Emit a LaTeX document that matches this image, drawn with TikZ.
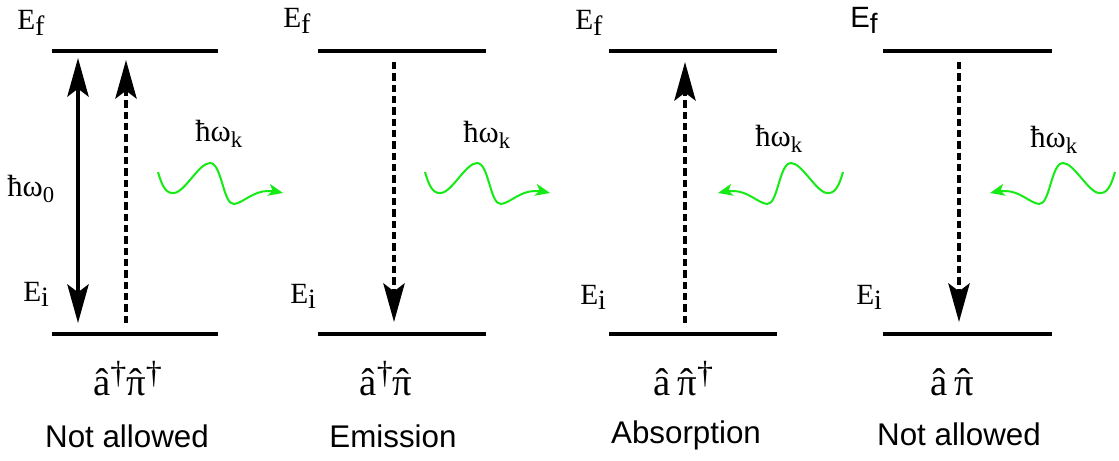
\documentclass[tikz,border=0pt]{standalone}
\usepackage{fontspec}
\setmainfont{Liberation Serif}
\setsansfont{Liberation Sans}
\usetikzlibrary{arrows.meta}
\definecolor{photongreen}{RGB}{20,235,20}
\newcommand{\hatpi}{\ooalign{π\cr\hidewidth ˆ\hidewidth\cr}}
\newcommand{\dg}{\raisebox{0.3em}{\fontsize{24}{24}\selectfont †}}
\newcommand{\lowidx}[1]{\raisebox{-0.22em}{\fontsize{17}{17}\selectfont #1}}
\newcommand{\lvlidx}[1]{\raisebox{-0.2em}{\fontsize{21}{21}\selectfont #1}}
\tikzset{
  energyline/.style={line width=3pt},
  transarrow/.style={line width=2.6pt, -{Stealth[length=29pt,width=16pt,inset=6pt]}},
  dasharrow/.style={transarrow, dash pattern=on 5.5pt off 3pt},
  photonwave/.style={draw=photongreen, line width=1.5pt, -{Stealth[length=11pt,width=9pt,inset=3pt]}},
  levellabel/.style={anchor=base west, inner sep=0pt, font=\fontsize{22}{22}\selectfont},
  energylabel/.style={anchor=base west, inner sep=0pt, font=\fontsize{23}{23}\selectfont},
  oplabel/.style={anchor=base, inner sep=0pt, font=\fontsize{29}{30}\selectfont},
  caption/.style={anchor=base, inner sep=0pt, font=\sffamily\fontsize{23.5}{26}\selectfont},
  photon/.pic={
    \draw[photonwave] (0,0) .. controls (4,14) and (8,22) .. (16,21)
      .. controls (27,20) and (41,-9) .. (52,-9)
      .. controls (64,-9) and (65,33) .. (76,32)
      .. controls (85,31) and (95,19) .. (110,19)
      .. controls (116,19) .. (125,21);
  }
}

\begin{document}
\begin{tikzpicture}[x=0.75pt, y=-0.75pt]
  \useasboundingbox (0,0) rectangle (1119,460);

  \draw[energyline] (52,51.5) -- (218,51.5);
  \draw[energyline] (52,334) -- (218,334);
  \draw[energyline] (318,51.5) -- (486,51.5);
  \draw[energyline] (318,334) -- (486,334);
  \draw[energyline] (609,51.5) -- (777,51.5);
  \draw[energyline] (609,334) -- (777,334);
  \draw[energyline] (883,51.5) -- (1052,51.5);
  \draw[energyline] (883,334) -- (1052,334);

  \node[levellabel] (ef1) at (17,30) {E\lvlidx{f}};
  \node[levellabel] (ei1) at (23,301) {E\lvlidx{i}};
  \node[levellabel] (ef2) at (283,28) {E\lvlidx{f}};
  \node[levellabel] (ei2) at (290,303) {E\lvlidx{i}};
  \node[levellabel] (ef3) at (575,30) {E\lvlidx{f}};
  \node[levellabel] (ei3) at (580,304) {E\lvlidx{i}};
  \node[levellabel, font=\sffamily\fontsize{22}{22}\selectfont] (ef4) at (850,28) {E\lvlidx{f}};
  \node[levellabel] (ei4) at (856,304) {E\lvlidx{i}};

  \coordinate (ftop1) at (78,58);   \coordinate (ibot1) at (78,323);
  \coordinate (ftop1d) at (126,60); \coordinate (ibot1d) at (126,323);
  \coordinate (ftop2) at (394,62);  \coordinate (ibot2) at (394,322);
  \coordinate (ftop3) at (685,62);  \coordinate (ibot3) at (685,323);
  \coordinate (ftop4) at (959,62);  \coordinate (ibot4) at (959,322);

  \draw[transarrow, {Stealth[length=29pt,width=16pt,inset=6pt]}-{Stealth[length=29pt,width=16pt,inset=6pt]}] (ibot1) -- (ftop1);
  \draw[dasharrow] (ibot1d) -- (ftop1d);
  \draw[dasharrow] (ftop2) -- (ibot2);
  \draw[dasharrow] (ibot3) -- (ftop3);
  \draw[dasharrow] (ftop4) -- (ibot4);

  \node[energylabel] (w0) at (7,196) {ħω\lowidx{0}};
  \node[energylabel] (wk1) at (195,141) {ħω\lowidx{k}};
  \node[energylabel] (wk2) at (463,142) {ħω\lowidx{k}};
  \node[energylabel] (wk3) at (755,146) {ħω\lowidx{k}};
  \node[energylabel] (wk4) at (1030,147) {ħω\lowidx{k}};

  \pic at (158,172) {photon};
  \pic at (425,172) {photon};
  \pic[xscale=-1] at (843,172) {photon};
  \pic[xscale=-1] at (1115,172) {photon};

  \node[oplabel] (op1) at (127.5,395) {â\dg\hatpi\dg};
  \node[oplabel] (op2) at (386,395) {â\dg\hatpi};
  \node[oplabel] (op3) at (683.5,395) {â\,\hatpi\dg};
  \node[oplabel] (op4) at (952,395) {â\,\hatpi};

  \node[caption] (cap1) at (127,447) {Not allowed};
  \node[caption] (cap2) at (393,447) {Emission};
  \node[caption] (cap3) at (686,443) {Absorption};
  \node[caption] (cap4) at (959,445) {Not allowed};
\end{tikzpicture}
\end{document}
